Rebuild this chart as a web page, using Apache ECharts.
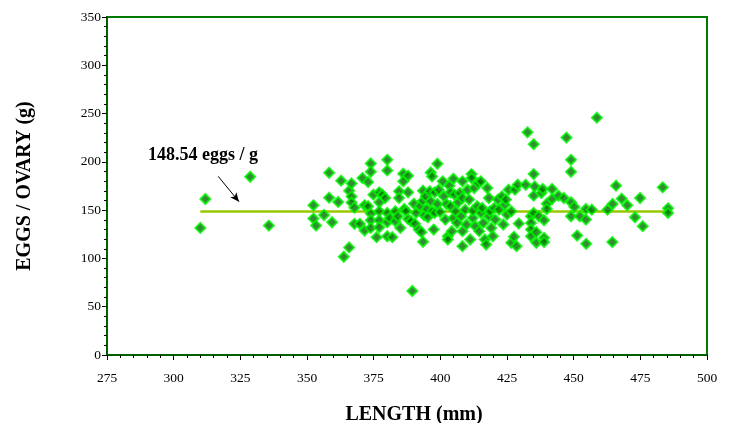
<!DOCTYPE html>
<html>
<head>
<meta charset="utf-8">
<script src="https://cdn.jsdelivr.net/npm/echarts@6/dist/echarts.min.js"></script>
<style>
html,body{margin:0;padding:0;background:#fff;}
#chart{width:736px;height:423px;}
</style>
</head>
<body>
<div id="chart"></div>
<script>
// Length (mm) of each fish
var lengthMM = [
310.0,311.9,328.7,335.7,352.4,352.4,353.4,356.4,358.3,358.3,359.4,361.7,362.8,363.8,365.8,365.8,366.7,366.7,366.7,367.8,
367.8,369.8,370.8,371.6,371.6,372.9,372.9,373.9,373.9,373.9,373.9,373.9,374.9,376.1,377.1,377.1,377.1,377.1,377.1,378.2,
379.3,380.1,380.1,380.1,380.1,380.1,381.1,382.0,383.1,383.1,384.1,384.5,384.5,385.0,386.1,386.1,386.5,387.1,387.9,387.9,
387.9,389.0,389.5,390.1,390.5,390.9,391.9,392.4,392.9,393.5,393.5,393.5,393.9,394.5,394.9,395.3,396.0,396.4,396.4,396.9,
396.9,397.5,397.9,397.9,398.9,398.9,399.4,399.9,400.9,401.3,401.9,402.3,402.8,402.8,403.4,403.8,403.8,404.3,404.9,404.9,
405.3,405.7,406.3,406.7,407.3,407.8,408.3,408.3,408.3,408.3,409.3,409.8,410.2,410.8,411.2,411.7,411.7,412.2,412.2,412.7,
413.1,413.8,414.2,414.6,415.2,415.2,415.7,416.1,416.7,417.2,417.6,418.2,418.2,418.6,419.1,419.7,420.2,420.6,421.6,422.0,
423.1,423.6,424.2,424.6,425.0,425.6,426.6,426.6,427.6,428.0,428.6,429.0,429.4,432.0,432.7,434.0,434.0,434.0,434.0,435.0,
435.0,435.0,435.0,435.4,436.0,436.0,436.9,437.9,438.4,438.9,438.9,438.9,439.9,439.9,441.9,441.9,444.3,446.3,447.3,449.0,
449.0,449.0,449.0,450.3,451.3,452.3,454.6,454.6,454.7,456.8,458.7,462.7,464.5,464.6,465.9,468.0,470.1,473.0,474.9,475.9,
483.4,485.4,485.4
];
// Eggs per gram of ovary
var eggsPerGram = [
131.6,161.5,184.6,134.0,155.0,141.3,134.0,145.0,188.7,162.9,137.5,158.5,180.5,101.7,111.4,170.1,177.7,164.0,157.8,152.6,
135.8,135.8,183.2,155.0,128.9,179.1,154.0,198.3,189.7,146.4,139.5,131.6,166.0,122.0,168.4,158.1,148.8,139.5,132.3,166.0,
162.6,202.1,191.1,147.1,137.5,123.0,141.9,122.0,148.8,138.5,143.7,169.5,162.6,131.6,187.7,179.8,151.2,148.8,185.6,168.4,
140.9,138.5,66.3,156.7,135.8,147.1,129.9,154.0,127.2,170.1,159.8,117.2,144.7,164.3,151.2,142.6,169.5,189.0,159.1,184.9,
148.8,129.9,168.4,147.1,198.0,156.4,171.2,148.1,179.8,164.3,140.2,156.4,123.0,119.6,175.3,168.4,154.0,128.2,182.5,141.9,
166.0,148.8,136.8,158.1,167.7,143.7,179.8,162.6,128.2,112.7,150.5,135.1,171.2,160.9,119.6,187.3,183.2,141.9,149.5,172.9,
133.4,154.0,178.0,128.2,179.8,147.1,152.3,136.8,119.6,114.4,172.9,162.6,143.7,148.8,131.6,123.0,152.3,140.2,160.9,150.5,
164.3,135.1,155.7,160.9,145.4,171.2,148.8,116.2,122.4,171.2,112.7,176.3,136.1,176.3,230.6,143.7,136.8,129.9,123.0,218.3,
187.3,165.0,147.1,174.6,127.2,116.2,143.7,167.7,171.9,139.5,121.3,116.9,156.7,151.2,171.9,161.5,165.0,162.6,225.1,202.1,
189.7,158.1,143.7,153.3,123.7,143.7,151.2,140.2,115.1,150.5,245.8,150.5,116.9,156.4,175.3,161.9,155.0,142.6,162.6,133.4,
173.6,151.9,147.1
];
// Mean fecundity line
var fitLength = [310, 485];
var fitValue = 148.54;
var fitLabel = '148.54 eggs / g';
// Arrow from label to line (data coords)
var arrowFrom = [316.7, 185];
var arrowTo = [324.5, 158.7];
var xTicks = [275, 500, 25];
var yTicks = [0, 350, 50];

var points = lengthMM.map(function (x, i) { return [x, eggsPerGram[i]]; });
var fitData = fitLength.map(function (x) { return [x, fitValue]; });

var chart = echarts.init(document.getElementById('chart'), null, {renderer: 'canvas'});
var font = '"Liberation Serif", "Times New Roman", serif';
var option = {
  animation: false,
  backgroundColor: '#ffffff',
  grid: {left: 107, right: 29, top: 17, bottom: 68, show: true, borderColor: '#007a00', borderWidth: 2,
         backgroundColor: 'transparent', containLabel: false, outerBoundsMode: 'none'},
  xAxis: {
    type: 'value', min: xTicks[0], max: xTicks[1], interval: xTicks[2],
    name: 'LENGTH (mm)', nameLocation: 'middle', nameGap: 50,
    nameTextStyle: {fontFamily: font, fontWeight: 'bold', fontSize: 20, color: '#000', padding: [0, 0, 0, 14]},
    axisLine: {show: true, lineStyle: {color: '#006000', width: 2}},
    axisTick: {show: true, inside: false, length: 5, lineStyle: {color: '#000', width: 1}},
    minorTick: {show: true, splitNumber: 5, length: 3, lineStyle: {color: '#000', width: 1}},
    axisLabel: {fontFamily: font, fontSize: 13.5, color: '#000', margin: 16},
    splitLine: {show: false}
  },
  yAxis: {
    type: 'value', min: yTicks[0], max: yTicks[1], interval: yTicks[2],
    name: 'EGGS / OVARY (g)', nameLocation: 'middle', nameGap: 72, nameRotate: 90,
    nameTextStyle: {fontFamily: font, fontWeight: 'bold', fontSize: 20, color: '#000'},
    axisLine: {show: true, lineStyle: {color: '#006000', width: 2}},
    axisTick: {show: true, inside: false, length: 5, lineStyle: {color: '#000', width: 1}},
    minorTick: {show: true, splitNumber: 5, length: 3, lineStyle: {color: '#000', width: 1}},
    axisLabel: {fontFamily: font, fontSize: 13.5, color: '#000', margin: 6},
    splitLine: {show: false}
  },
  series: [
    {
      type: 'line', data: fitData, symbol: 'none', z: 1,
      lineStyle: {color: '#99c800', width: 2.5},
      markLine: {
        silent: true, symbol: ['none', 'arrow'], symbolSize: [6, 9],
        lineStyle: {color: '#000', width: 1, type: 'solid'},
        label: {show: false},
        data: [[{coord: arrowFrom}, {coord: arrowTo}]]
      }
    },
    {
      type: 'scatter', data: points, symbol: 'diamond', symbolSize: 10, z: 3,
      itemStyle: {color: '#007000', borderColor: '#00f500', borderWidth: 2}
    }
  ]
};
chart.setOption(option);
chart.setOption({
  graphic: [{
    type: 'text', left: 148, top: 146,
    style: {text: fitLabel, font: 'bold 18px ' + font, fill: '#000'}
  }]
});
</script>
</body>
</html>
